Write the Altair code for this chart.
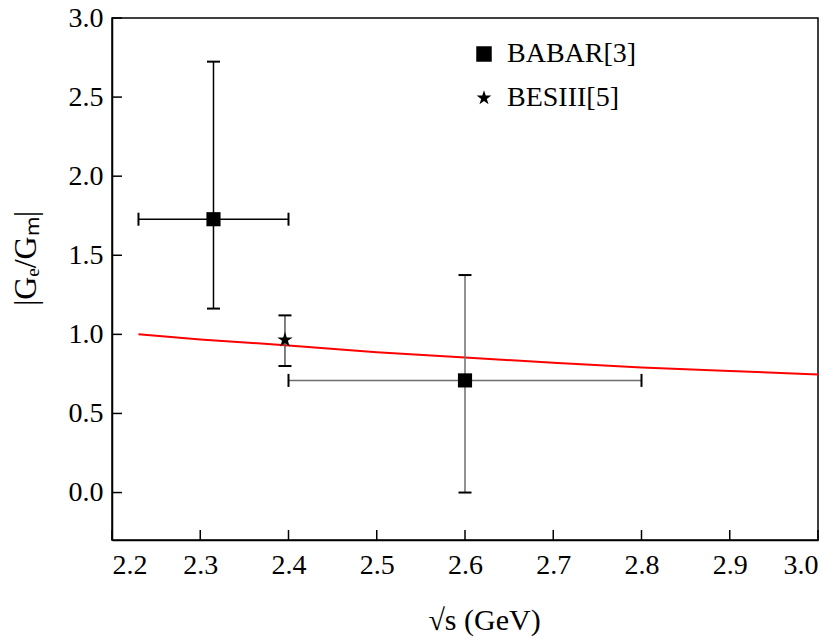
import altair as alt
import pandas as pd

# ---- data ----
exp_names = ["BABAR[3]", "BABAR[3]", "BESIII[5]"]
pt_x = [2.315, 2.60, 2.396]
pt_y = [1.728, 0.709, 0.965]
pt_xlo = [2.23, 2.40, None]
pt_xhi = [2.40, 2.80, None]
pt_ylo = [1.163, 0.0, 0.80]
pt_yhi = [2.724, 1.375, 1.12]
bar_colors = ["#000000", "#6e6e6e", "#555555"]

curve_x = [2.23, 2.30, 2.40, 2.50, 2.60, 2.70, 2.80, 2.90, 3.00]
curve_y = [1.000, 0.968, 0.930, 0.887, 0.854, 0.820, 0.790, 0.768, 0.747]

x_ticks = [2.2, 2.3, 2.4, 2.5, 2.6, 2.7, 2.8, 2.9, 3.0]
y_ticks = [0.0, 0.5, 1.0, 1.5, 2.0, 2.5, 3.0]

legend_names = ["BABAR[3]", "BESIII[5]"]
STAR = ("M0,-1L0.2245,-0.309L0.951,-0.309L0.363,0.118L0.588,0.809L0,0.382"
        "L-0.588,0.809L-0.363,0.118L-0.951,-0.309L-0.2245,-0.309Z")

xdom = [2.2, 3.0]
ydom = [-0.3, 3.0]
XTICK_LEN = 0.0113   # inward tick length in x data units (~10 px)
YTICK_LEN = 0.063    # inward tick length in y data units (~10 px)

pts = pd.DataFrame({"exp": exp_names, "x": pt_x, "y": pt_y, "xlo": pt_xlo,
                    "xhi": pt_xhi, "ylo": pt_ylo, "yhi": pt_yhi, "c": bar_colors})
curve = pd.DataFrame({"x": curve_x, "y": curve_y})

caps_h = pd.concat([
    pd.DataFrame({"x": pt_x, "y": pt_ylo}),
    pd.DataFrame({"x": pt_x, "y": pt_yhi}),
])
hx = pts.dropna(subset=["xlo"])
caps_v = pd.concat([
    pd.DataFrame({"x": hx["xlo"], "y": hx["y"]}),
    pd.DataFrame({"x": hx["xhi"], "y": hx["y"]}),
])
xt = pd.DataFrame({"t": x_ticks, "a": ydom[0], "b": ydom[0] + YTICK_LEN})
yt = pd.DataFrame({"t": y_ticks, "a": xdom[0], "b": xdom[0] + XTICK_LEN})

FONT = "Liberation Serif"

xs = alt.Scale(domain=xdom, nice=False, zero=False)
ys = alt.Scale(domain=ydom, nice=False, zero=False)

xaxis = alt.Axis(values=x_ticks, format=".1f", title="√s (GeV)", titlePadding=26,
                 titleX=372, titleFontSize=30,
                 labelPadding=11, labelFont=FONT, labelFontSize=28, labelColor="black")
yaxis = alt.Axis(values=y_ticks, format=".1f", title="|Gₑ/Gₘ|", titlePadding=26,
                 titleY=240, titleFontSize=32,
                 labelPadding=9, labelFont=FONT, labelFontSize=28, labelColor="black")

line = alt.Chart(curve).mark_line(color="red", strokeWidth=2).encode(
    x=alt.X("x:Q", scale=xs, axis=xaxis),
    y=alt.Y("y:Q", scale=ys, axis=yaxis),
)

vbars = alt.Chart(pts).mark_rule(strokeWidth=1.5).encode(
    x="x:Q", y="ylo:Q", y2="yhi:Q", color=alt.Color("c:N", scale=None))
hbars = alt.Chart(pts).transform_filter("datum.xlo != null").mark_rule(strokeWidth=1.5).encode(
    x="xlo:Q", x2="xhi:Q", y="y:Q", color=alt.Color("c:N", scale=None))
hcaps = alt.Chart(caps_h).mark_tick(orient="horizontal", size=13, thickness=2,
                                    color="black", opacity=1).encode(x="x:Q", y="y:Q")
vcaps = alt.Chart(caps_v).mark_tick(orient="vertical", size=13, thickness=2,
                                    color="black", opacity=1).encode(x="x:Q", y="y:Q")

points = alt.Chart(pts).mark_point(filled=True, opacity=1, color="black").encode(
    x="x:Q", y="y:Q",
    shape=alt.Shape("exp:N", scale=alt.Scale(domain=legend_names, range=["square", STAR]),
                    legend=alt.Legend(title=None, orient="none", legendX=358, legendY=22,
                                      labelFont=FONT, labelFontSize=28, labelColor="black",
                                      symbolSize=240, symbolFillColor="black",
                                      symbolStrokeColor="black", symbolType="square",
                                      rowPadding=16, labelOffset=9)),
    size=alt.condition("datum.exp == 'BESIII[5]'", alt.value(260), alt.value(200)),
)

xticks = alt.Chart(xt).mark_rule(color="black", strokeWidth=1.5).encode(
    x="t:Q", y="a:Q", y2="b:Q")
yticks = alt.Chart(yt).mark_rule(color="black", strokeWidth=1.5).encode(
    y="t:Q", x="a:Q", x2="b:Q")

chart = alt.layer(line, vbars, hbars, hcaps, vcaps, points, xticks, yticks).properties(
    width=706, height=522,
    autosize=alt.AutoSizeParams(type="none"),
    padding={"left": 104, "top": 10, "right": 12, "bottom": 100},
).configure_view(
    stroke="black", strokeWidth=1.5
).configure_axis(
    ticks=False, grid=False,
    labelFont=FONT, labelColor="black",
    domainColor="black", domainWidth=1.5,
    titleFont=FONT, titleFontWeight="normal", titleColor="black",
)

chart.save("out.html", embed_options={"renderer": "svg", "actions": False})
